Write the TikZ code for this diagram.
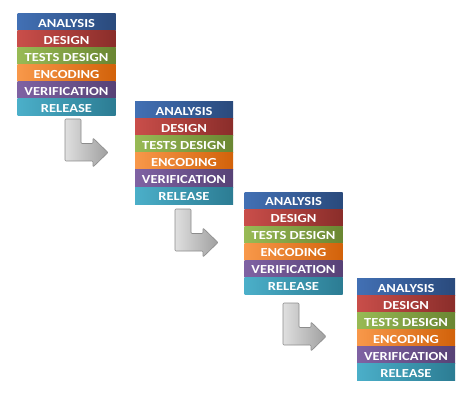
\documentclass[tikz,border=0pt]{standalone}
\usepackage{fontspec}
\setmainfont{Carlito}
\newfontfamily\rowfont[FakeStretch=1.18]{Carlito}
\definecolor{c1l}{HTML}{4270B4}\definecolor{c1r}{HTML}{2A4A7C}
\definecolor{c2l}{HTML}{C94E4A}\definecolor{c2r}{HTML}{8A2D2A}
\definecolor{c3l}{HTML}{98BA55}\definecolor{c3r}{HTML}{6A8632}
\definecolor{c4l}{HTML}{F8984A}\definecolor{c4r}{HTML}{D2620A}
\definecolor{c5l}{HTML}{7F62A3}\definecolor{c5r}{HTML}{574276}
\definecolor{c6l}{HTML}{4BAFC9}\definecolor{c6r}{HTML}{2C7C93}
\tikzset{
  rowbox/.style={minimum width=98pt, minimum height=17pt, inner sep=0pt, outer sep=0pt,
    text=white, text height=10.5pt, text depth=0pt, anchor=north west,
    font=\rowfont\bfseries\fontsize{12.3}{13}\selectfont},
  lshape/.style={draw=gray!90, line width=0.6pt, rounded corners=1pt,
    left color=gray!25, right color=gray!75}
}
\begin{document}
\begin{tikzpicture}[x=1pt,y=-1pt]
\useasboundingbox (0,0) rectangle (474,401);
\fill[white] (0,0) rectangle (474,401);
\foreach \b/\x/\y in {1/17.5/13.5, 2/135/102, 3/244.5/192, 4/357/278.5} {
  \foreach \r/\t in {1/ANALYSIS, 2/DESIGN, 3/TESTS DESIGN, 4/ENCODING, 5/VERIFICATION, 6/RELEASE} {
    \node[rowbox, left color=c\r l, right color=c\r r] (b\b r\r) at (\x, \y+17*\r-17) {\t};
  }
}
\foreach \a/\x/\y in {1/65/119, 2/175/209, 3/283/303} {
  \coordinate (a\a) at (\x,\y);
  \draw[lshape] (a\a) -- ++(16,0) -- ++(0,24.5) -- ++(12,0) -- ++(0,-5.5)
    -- ++(15,14.5) -- ++(-15,14.5) -- ++(0,-6) -- ++(-28,0) -- cycle;
}
\end{tikzpicture}
\end{document}
